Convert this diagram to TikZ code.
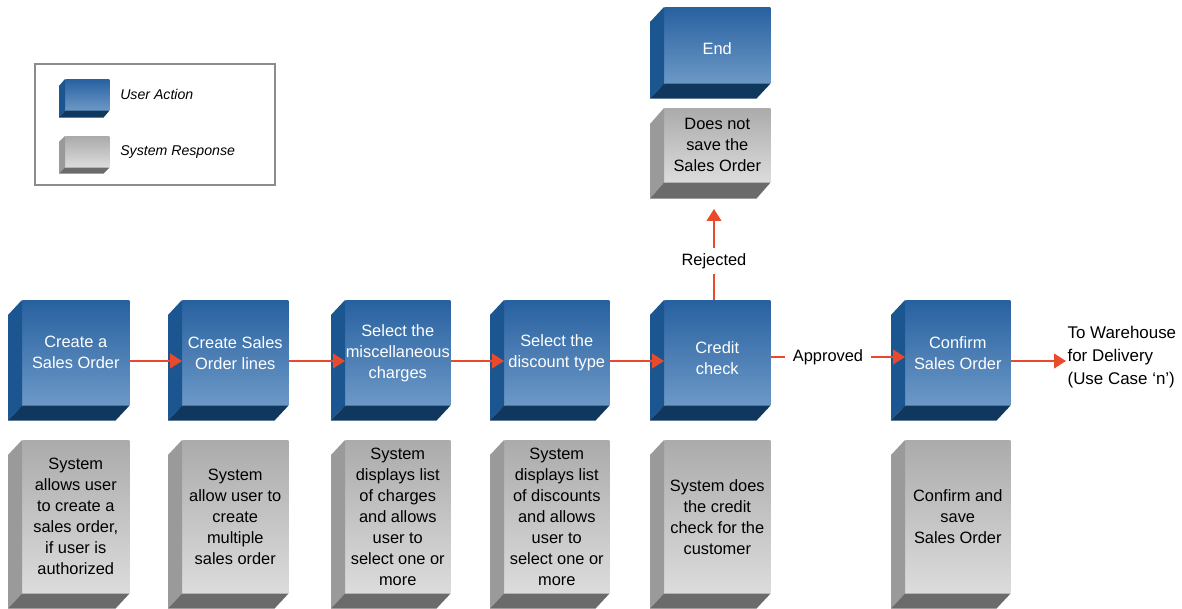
\documentclass[tikz,border=0pt]{standalone}
\usepackage{fontspec}
\setmainfont{Liberation Sans}
\usetikzlibrary{calc,arrows.meta}
\definecolor{utop}{HTML}{2861A0}
\definecolor{ubot}{HTML}{6C98C6}
\definecolor{uleft}{HTML}{1B5690}
\definecolor{ubottom}{HTML}{10385F}
\definecolor{stop}{HTML}{ABABAB}
\definecolor{sbot}{HTML}{DCDCDC}
\definecolor{sleft}{HTML}{9A9A9A}
\definecolor{sbottom}{HTML}{6B6B6B}
\definecolor{arr}{HTML}{EA4A2C}
\newcommand\bev[4]{%
  \fill[#4left] (#1.north west) -- ++(#2,#3) -- ($(#1.south west)+(#2,#3)$) -- (#1.south west) -- cycle;
  \fill[#4bottom] (#1.south west) -- ++(#2,#3) -- ($(#1.south east)+(#2,#3)$) -- (#1.south east) -- cycle;
}
\tikzset{
  face/.style={anchor=north west, inner sep=0pt, align=center, font=\fontsize{12.3}{15.75}\selectfont},
  ubox/.style={face, top color=utop, bottom color=ubot, text=white},
  sbox/.style={face, top color=stop, bottom color=sbot, text=black},
  facetext/.style={inner sep=0pt, align=center, font=\fontsize{12.3}{15.75}\selectfont},
  flow/.style={draw=arr, line width=1.6pt, -{Triangle[length=9pt,width=11pt]}},
  plain/.style={draw=arr, line width=1.6pt},
  lbl/.style={font=\fontsize{12.3}{15.75}\selectfont, inner xsep=6pt, inner ysep=6pt}
}
\begin{document}
\begin{tikzpicture}[x=0.75pt,y=-0.75pt]
\useasboundingbox (0,0) rectangle (1182,609);
% legend
\draw[draw=black!45, line width=1pt] (35,64) rectangle (275,185);
\node[ubox, minimum width=44*0.75pt, minimum height=31*0.75pt] (lu) at (65,79) {};
\bev{lu}{-6}{7}{u}
\node[sbox, minimum width=44*0.75pt, minimum height=31*0.75pt] (ls) at (65,136) {};
\bev{ls}{-6}{6}{s}
\node[anchor=west, font=\fontsize{10.6}{13}\selectfont\itshape, inner sep=0pt] (lut) at (120,94) {User Action};
\node[anchor=west, font=\fontsize{10.6}{13}\selectfont\itshape, inner sep=0pt] (lst) at (120,152) {System Response};
% top row
\node[ubox, minimum width=107*0.75pt, minimum height=105*0.75pt] (a1) at (22,300) {Create a\\Sales Order};
\bev{a1}{-14}{15}{u}
\node[ubox, minimum width=106*0.75pt, minimum height=105*0.75pt] (a2) at (182,300) {Create Sales\\Order lines};
\bev{a2}{-14}{15}{u}
\node[ubox, minimum width=105*0.75pt, minimum height=105*0.75pt] (a3) at (345,300) {Select the\\miscellaneous\\charges};
\bev{a3}{-14}{15}{u}
\node[ubox, minimum width=105*0.75pt, minimum height=105*0.75pt] (a4) at (504,300) {Select the\\discount type};
\bev{a4}{-14}{15}{u}
\node[ubox, minimum width=106*0.75pt, minimum height=105*0.75pt] (a5) at (664,300) {};
\bev{a5}{-14}{15}{u}
\node[facetext, text=white] (a5t) at ($(a5.center)+(0,5)$) {Credit\\check};
\node[ubox, minimum width=105*0.75pt, minimum height=105*0.75pt] (a6) at (905,300) {Confirm\\Sales Order};
\bev{a6}{-14}{15}{u}
% bottom row
\node[sbox, minimum width=107*0.75pt, minimum height=153*0.75pt] (s1) at (22,440) {System\\allows user\\to create a\\sales order,\\if user is\\authorized};
\bev{s1}{-14}{15}{s}
\node[sbox, minimum width=106*0.75pt, minimum height=153*0.75pt] (s2) at (182,440) {System\\allow user to\\create\\multiple\\sales order};
\bev{s2}{-14}{15}{s}
\node[sbox, minimum width=105*0.75pt, minimum height=153*0.75pt] (s3) at (345,440) {System\\displays list\\of charges\\and allows\\user to\\select one or\\more};
\bev{s3}{-14}{15}{s}
\node[sbox, minimum width=105*0.75pt, minimum height=153*0.75pt] (s4) at (504,440) {System\\displays list\\of discounts\\and allows\\user to\\select one or\\more};
\bev{s4}{-14}{15}{s}
\node[sbox, minimum width=106*0.75pt, minimum height=153*0.75pt] (s5) at (664,440) {System does\\the credit\\check for the\\customer};
\bev{s5}{-14}{15}{s}
\node[sbox, minimum width=105*0.75pt, minimum height=153*0.75pt] (s6) at (905,440) {Confirm and\\save\\Sales Order};
\bev{s6}{-14}{15}{s}
% top column
\node[ubox, minimum width=106*0.75pt, minimum height=76*0.75pt] (e1) at (664,7) {};
\bev{e1}{-14}{15}{u}
\node[facetext, text=white] (e1t) at ($(e1.center)+(0,3)$) {End};
\node[sbox, minimum width=106*0.75pt, minimum height=74*0.75pt] (e2) at (664,108) {Does not\\save the\\Sales Order};
\bev{e2}{-14}{16}{s}
% labels
\node[lbl] (appr) at (828,357) {Approved};
\node[lbl, inner ysep=4pt] (rej) at (714,261) {Rejected};
\node[anchor=west, align=left, inner sep=1pt, font=\fontsize{12.7}{17.25}\selectfont] (wh) at (1066,357) {To Warehouse\\for Delivery\\(Use Case `n')};
\coordinate (e2b) at (714,209);
% connectors
\draw[flow] (a1.east |- 0,361) -- (a2.west |- 0,361);
\draw[flow] (a2.east |- 0,361) -- (a3.west |- 0,361);
\draw[flow] (a3.east |- 0,361) -- (a4.west |- 0,361);
\draw[flow] (a4.east |- 0,361) -- (a5.west |- 0,361);
\draw[plain] (a5.east |- 0,357) -- (appr.west);
\draw[flow] (appr.east) -- (a6.west |- 0,357);
\draw[flow] (a6.east |- 0,361) -- (wh.west |- 0,361);
\draw[plain] (a5.north -| 714,0) -- (rej.south);
\draw[flow] (rej.north) -- (e2b);
\end{tikzpicture}
\end{document}
